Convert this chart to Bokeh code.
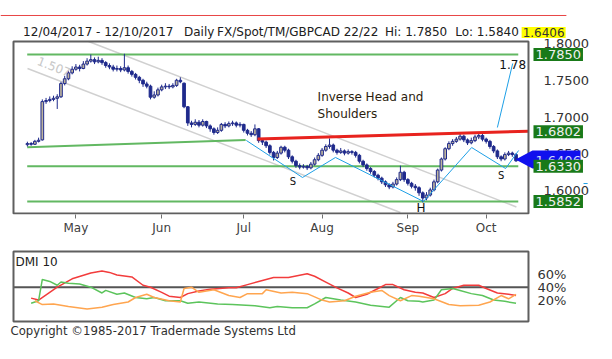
from bokeh.plotting import figure
from bokeh.models import (Range1d, FixedTicker, Label, PolyAnnotation, BoxAnnotation,
                          ColumnDataSource, NumeralTickFormatter)
from bokeh.layouts import column
from bokeh.embed import file_html
from bokeh.resources import INLINE

# ---------------- data (GBPCAD daily, 12/04/2017 - 12/10/2017) ----------------
opens = [1.6625, 1.6640, 1.6630, 1.6670, 1.6690, 1.7210, 1.7225, 1.7240, 1.7255, 1.7275,
         1.7455, 1.7520, 1.7600, 1.7650, 1.7680, 1.7660, 1.7720, 1.7760, 1.7780, 1.7750,
         1.7770, 1.7740, 1.7700, 1.7680, 1.7650, 1.7660, 1.7640, 1.7670, 1.7620, 1.7580,
         1.7540, 1.7500, 1.7450, 1.7420, 1.7270, 1.7300, 1.7370, 1.7410, 1.7420, 1.7410,
         1.7430, 1.7500, 1.7460, 1.7140, 1.6920, 1.6900, 1.6930, 1.6890, 1.6940, 1.6880,
         1.6840, 1.6790, 1.6820, 1.6900, 1.6880, 1.6910, 1.6920, 1.6890, 1.6900, 1.6820,
         1.6780, 1.6760, 1.6840, 1.6680, 1.6660, 1.6610, 1.6520, 1.6450, 1.6510, 1.6590,
         1.6550, 1.6460, 1.6400, 1.6340, 1.6320, 1.6330, 1.6310, 1.6360, 1.6420, 1.6480,
         1.6550, 1.6600, 1.6620, 1.6550, 1.6520, 1.6540, 1.6510, 1.6530, 1.6520, 1.6480,
         1.6400, 1.6350, 1.6300, 1.6260, 1.6210, 1.6170, 1.6120, 1.6080, 1.6050, 1.6090,
         1.6150, 1.6250, 1.6150, 1.6100, 1.6060, 1.6040, 1.5970, 1.5900, 1.5940, 1.6010,
         1.6120, 1.6280, 1.6430, 1.6570, 1.6640, 1.6670, 1.6700, 1.6740, 1.6690, 1.6650,
         1.6680, 1.6730, 1.6750, 1.6700, 1.6670, 1.6600, 1.6540, 1.6460, 1.6430, 1.6490,
         1.6510, 1.6490]
highs = [1.6665, 1.6660, 1.6690, 1.6720, 1.7240, 1.7260, 1.7280, 1.7290, 1.7310, 1.7480,
         1.7560, 1.7630, 1.7690, 1.7720, 1.7710, 1.7760, 1.7800, 1.7850, 1.7810, 1.7820,
         1.7800, 1.7760, 1.7730, 1.7710, 1.7700, 1.7690, 1.7860, 1.7700, 1.7640, 1.7600,
         1.7560, 1.7520, 1.7480, 1.7440, 1.7350, 1.7400, 1.7440, 1.7460, 1.7450, 1.7460,
         1.7520, 1.7540, 1.7470, 1.7150, 1.6950, 1.6970, 1.6960, 1.6970, 1.6950, 1.6900,
         1.6860, 1.6860, 1.6920, 1.6930, 1.6940, 1.6950, 1.6940, 1.6930, 1.6910, 1.6840,
         1.6810, 1.6900, 1.6850, 1.6700, 1.6680, 1.6630, 1.6540, 1.6540, 1.6610, 1.6610,
         1.6570, 1.6480, 1.6420, 1.6370, 1.6360, 1.6350, 1.6390, 1.6450, 1.6510, 1.6580,
         1.6630, 1.6710, 1.6640, 1.6570, 1.6580, 1.6560, 1.6560, 1.6550, 1.6540, 1.6500,
         1.6420, 1.6370, 1.6320, 1.6280, 1.6230, 1.6190, 1.6140, 1.6100, 1.6120, 1.6180,
         1.6340, 1.6270, 1.6170, 1.6120, 1.6090, 1.6060, 1.5990, 1.5980, 1.6040, 1.6150,
         1.6300, 1.6450, 1.6590, 1.6670, 1.6700, 1.6730, 1.6770, 1.6760, 1.6710, 1.6720,
         1.6760, 1.6780, 1.6770, 1.6720, 1.6690, 1.6620, 1.6560, 1.6480, 1.6520, 1.6540,
         1.6530, 1.6510]
lows = [1.6600, 1.6610, 1.6620, 1.6655, 1.6680, 1.7180, 1.7200, 1.7215, 1.7110, 1.7260,
        1.7430, 1.7500, 1.7580, 1.7630, 1.7620, 1.7650, 1.7700, 1.7740, 1.7720, 1.7730,
        1.7710, 1.7670, 1.7650, 1.7620, 1.7620, 1.7610, 1.7620, 1.7590, 1.7550, 1.7510,
        1.7460, 1.7410, 1.7390, 1.7240, 1.7250, 1.7280, 1.7350, 1.7380, 1.7380, 1.7390,
        1.7410, 1.7460, 1.7120, 1.6880, 1.6860, 1.6880, 1.6860, 1.6870, 1.6850, 1.6800,
        1.6760, 1.6770, 1.6800, 1.6850, 1.6860, 1.6880, 1.6860, 1.6860, 1.6790, 1.6750,
        1.6730, 1.6740, 1.6650, 1.6620, 1.6580, 1.6490, 1.6410, 1.6430, 1.6490, 1.6520,
        1.6430, 1.6370, 1.6310, 1.6290, 1.6300, 1.6280, 1.6290, 1.6340, 1.6400, 1.6460,
        1.6530, 1.6570, 1.6520, 1.6490, 1.6500, 1.6480, 1.6490, 1.6490, 1.6450, 1.6370,
        1.6320, 1.6270, 1.6230, 1.6180, 1.6140, 1.6090, 1.6050, 1.6020, 1.6030, 1.6070,
        1.6130, 1.6120, 1.6070, 1.6030, 1.6000, 1.5930, 1.5840, 1.5870, 1.5920, 1.5990,
        1.6100, 1.6260, 1.6410, 1.6550, 1.6610, 1.6650, 1.6680, 1.6660, 1.6620, 1.6630,
        1.6660, 1.6700, 1.6670, 1.6640, 1.6570, 1.6510, 1.6430, 1.6400, 1.6410, 1.6470,
        1.6460, 1.6390]
closes = [1.6640, 1.6630, 1.6670, 1.6685, 1.7210, 1.7225, 1.7240, 1.7255, 1.7275, 1.7455,
          1.7520, 1.7600, 1.7650, 1.7680, 1.7660, 1.7720, 1.7760, 1.7780, 1.7750, 1.7770,
          1.7740, 1.7700, 1.7680, 1.7650, 1.7660, 1.7640, 1.7670, 1.7620, 1.7580, 1.7540,
          1.7500, 1.7450, 1.7420, 1.7270, 1.7300, 1.7370, 1.7410, 1.7420, 1.7410, 1.7430,
          1.7500, 1.7480, 1.7140, 1.6920, 1.6900, 1.6930, 1.6890, 1.6940, 1.6880, 1.6840,
          1.6790, 1.6820, 1.6900, 1.6880, 1.6910, 1.6920, 1.6890, 1.6900, 1.6820, 1.6780,
          1.6760, 1.6840, 1.6680, 1.6660, 1.6610, 1.6520, 1.6450, 1.6510, 1.6590, 1.6550,
          1.6460, 1.6400, 1.6340, 1.6320, 1.6330, 1.6310, 1.6360, 1.6420, 1.6480, 1.6550,
          1.6600, 1.6620, 1.6550, 1.6520, 1.6540, 1.6510, 1.6530, 1.6520, 1.6480, 1.6400,
          1.6350, 1.6300, 1.6260, 1.6210, 1.6170, 1.6120, 1.6080, 1.6050, 1.6090, 1.6150,
          1.6250, 1.6150, 1.6100, 1.6060, 1.6040, 1.5970, 1.5900, 1.5940, 1.6010, 1.6120,
          1.6280, 1.6430, 1.6570, 1.6640, 1.6670, 1.6700, 1.6740, 1.6690, 1.6650, 1.6680,
          1.6730, 1.6750, 1.6700, 1.6670, 1.6600, 1.6540, 1.6460, 1.6430, 1.6490, 1.6510,
          1.6490, 1.6406]

month_ticks = [13, 36, 58, 79, 102, 123]          # first trading day of each month
month_labels = ["May", "Jun", "Jul", "Aug", "Sep", "Oct"]
price_ticks = [1.60, 1.65, 1.70, 1.75, 1.80]
level_values = [1.7850, 1.6330, 1.5852]            # green support/resistance levels
neckline_value = 1.6802
last_price = 1.6406
header_parts = ["12/04/2017 - 12/10/2017", "Daily", "FX/Spot/TM/GBPCAD 22/22",
                "Hi: 1.7850", "Lo: 1.5840"]

# drawn pattern lines (bar index, price)
zigzag_x = [58.7, 73.75, 82.6, 106.2, 119.1, 128.2, 131.7]
zigzag_y = [1.6682, 1.6179, 1.6451, 1.5853, 1.6586, 1.6301, 1.6546]
target_x = [126.0, 130.1]
target_y = [1.6858, 1.7728]
trend_x = [-0.05, 58.5]
trend_y = [1.6590, 1.6690]
neck_x = [61.7, 134.34]
neck_y = [1.6703, 1.6808]
chan_a_x = [16.4, 131.1]
chan_a_y = [1.8027, 1.5779]
chan_b_x = [0.03, 100.0]
chan_b_y = [1.7660, 1.5703]

# DMI 10
dmi_red_x = [1, 3, 8, 12, 17, 20, 22, 24, 28, 31, 33, 36, 38, 41, 43, 46, 49, 54, 56, 59, 62, 66,
             70, 75, 77, 80, 83, 86, 88, 91, 94, 96, 98, 101, 104, 106, 109, 112, 114, 117, 121,
             123, 126, 129, 131]
dmi_red = [23, 20, 40, 53, 62, 65, 63, 59, 56, 43, 40, 32, 26, 24, 30, 34, 37, 39, 39, 44, 49, 55,
           55, 61, 57, 48, 39, 31, 24, 29, 38, 44, 44, 36, 32, 31, 24, 30, 38, 43, 43, 38, 31, 29, 27]
dmi_green_x = [1, 3, 4, 6, 8, 9, 11, 14, 17, 20, 21, 24, 26, 29, 32, 34, 37, 41, 43, 46, 51, 55,
               61, 65, 67, 71, 75, 77, 80, 84, 88, 92, 97, 100, 102, 105, 106, 109, 111, 114, 116,
               119, 122, 125, 128, 131]
dmi_green = [15, 19, 52, 49, 43, 48, 46, 45, 40, 31, 35, 29, 31, 24, 22, 24, 19, 19, 15, 17, 14, 13,
             11, 8, 10, 8, 8, 14, 24, 20, 17, 12, 9, 24, 19, 18, 17, 20, 36, 38, 35, 30, 27, 20, 18, 15]
dmi_orange_x = [2, 4, 7, 11, 16, 20, 23, 27, 29, 32, 34, 38, 41, 42, 44, 46, 50, 54, 57, 59, 63, 64,
                68, 71, 75, 79, 81, 85, 88, 92, 95, 97, 100, 103, 105, 109, 113, 116, 121, 124,
                127, 129, 131]
dmi_orange = [19, 13, 14, 10, 6, 9, 13, 17, 24, 29, 24, 19, 17, 38, 40, 32, 36, 27, 24, 30, 30, 36,
              31, 32, 30, 20, 17, 19, 26, 32, 35, 27, 19, 27, 26, 22, 13, 11, 12, 17, 27, 22, 29]
dmi_ticks = [20, 40, 60]
dmi_ref_level = 40

# ---------------- styling / geometry ----------------
FONT = "DejaVu Sans"
NAVY = "#1f2a8c"
UPFILL = "#bdb49c"
GREEN = "#62b862"
FRAME = "#5f5f5f"
X0, X1 = -7.212, 156.863          # whole canvas width in bar units
BOX_L, BOX_R = -3.727, 134.34     # chart box edges in bar units

p = figure(width=612, height=242, x_range=Range1d(X0, X1), y_range=Range1d(1.56761, 1.85837),
           output_backend="svg", toolbar_location=None, y_axis_location="right",
           min_border_left=0, min_border_right=0, min_border_top=0, min_border_bottom=28)
p.title.visible = False
p.grid.visible = False
p.outline_line_color = None

p.xaxis.ticker = FixedTicker(ticks=month_ticks)
p.xaxis.major_label_overrides = {t: l for t, l in zip(month_ticks, month_labels)}
p.xaxis.axis_line_color = None
p.xaxis.major_tick_in = 0
p.xaxis.major_tick_out = 4
p.xaxis.major_tick_line_color = "#707070"
p.xaxis.minor_tick_line_color = None
p.xaxis.major_label_standoff = 2
p.xaxis.major_label_text_font = FONT
p.xaxis.major_label_text_font_size = "12px"
p.xaxis.major_label_text_color = "#404040"

p.yaxis.fixed_location = BOX_R
p.yaxis.ticker = FixedTicker(ticks=price_ticks)
p.yaxis.formatter = NumeralTickFormatter(format="0.0000")
p.yaxis.axis_line_color = None
p.yaxis.major_tick_line_color = None
p.yaxis.minor_tick_line_color = None
p.yaxis.major_label_standoff = 9
p.yaxis.major_label_text_font = FONT
p.yaxis.major_label_text_font_size = "13px"
p.yaxis.major_label_text_color = "#333333"

p.add_layout(BoxAnnotation(left=BOX_L, right=BOX_R, bottom=1.5689, top=1.8027,
                           fill_alpha=0, line_color=FRAME, line_width=2, line_alpha=1))

# channel lines
p.line(chan_a_x, chan_a_y, line_color="#d0d0d0", line_width=1.5)
p.line(chan_b_x, chan_b_y, line_color="#d0d0d0", line_width=1.5)
p.add_layout(Label(x=2.4, y=1.7714, text="1.507", angle=-0.368, text_font=FONT,
                   text_font_size="12px", text_color="#c8c8c8", text_baseline="bottom"))

# horizontal levels
p.segment(x0=[-0.05] * len(level_values), y0=level_values, x1=[131.6] * len(level_values),
          y1=level_values, line_color=GREEN, line_width=2)
p.line(trend_x, trend_y, line_color=GREEN, line_width=2)

# candles
body_top = [max(o, c) for o, c in zip(opens, closes)]
body_bot = [min(o, c) for o, c in zip(opens, closes)]
fills = [UPFILL if c >= o else NAVY for o, c in zip(opens, closes)]
src = ColumnDataSource(dict(x=list(range(len(closes))), h=highs, l=lows, t=body_top, b=body_bot,
                            f=fills))
p.segment(x0="x", y0="h", x1="x", y1="l", source=src, line_color=NAVY, line_width=1)
p.vbar(x="x", width=0.72, top="t", bottom="b", source=src, fill_color="f", line_color=NAVY,
       line_width=1)

# neckline and pattern
p.line(neck_x, neck_y, line_color="#e8231e", line_width=3)
p.line(zigzag_x, zigzag_y, line_color="#1e9fe6", line_width=1)
p.line(target_x, target_y, line_color="#1e9fe6", line_width=1)
p.line([149.1, 150.2], [1.6097, 1.6097], line_color="#1e9fe6", line_width=1)


def txt(x, y, t, size="12px", color="#111111", align="left", baseline="middle", **kw):
    return Label(x=x, y=y, text=t, text_font=FONT, text_font_size=size, text_color=color,
                 text_align=align, text_baseline=baseline, **kw)


p.add_layout(txt(77.8, 1.7266, "Inverse Head and", color="#2b1d0e"))
p.add_layout(txt(77.8, 1.7035, "Shoulders", color="#2b1d0e"))
p.add_layout(txt(130.1, 1.7714, "1.78", align="center"))
p.add_layout(txt(71.2, 1.6124, "S", size="10px", align="center"))
p.add_layout(txt(127.0, 1.6205, "S", size="10px", align="center"))
p.add_layout(txt(105.5, 1.5758, "H", size="12px", align="center"))

# header
p.line([X0, 144.5], [1.8380, 1.8380], line_color="#e84545", line_width=1)
header_x = [-1.15, 41.98, 50.86, 95.87, 114.69]
for hx, ht in zip(header_x, header_parts):
    p.add_layout(txt(hx, 1.8149, ht, size="12px", color="#202020"))
p.add_layout(txt(132.5, 1.8149, "%.4f" % last_price, size="12px", color="#333333",
                 background_fill_color="#ffff00", padding=1))

# last price arrow
p.add_layout(PolyAnnotation(xs=[130.86, 135.41, 148.28, 148.28, 135.41],
                            ys=[1.6423, 1.6546, 1.6546, 1.6301, 1.6301],
                            fill_color="#1010ee", fill_alpha=1, line_color=None))
p.add_layout(txt(136.2, last_price, "%.4f" % last_price, size="13px", color="#d0d8ff"))

# level labels
for lv in level_values + [neckline_value]:
    p.add_layout(txt(135.68, lv, "%.4f" % lv, size="13px", color="#f0f0f0",
                     background_fill_color="#197a19", padding=2))

# ---------------- DMI panel ----------------
d = figure(width=612, height=117, x_range=p.x_range, y_range=Range1d(-72.37, 109.47),
           output_backend="svg", toolbar_location=None, y_axis_location="right",
           min_border_left=0, min_border_right=0, min_border_top=0, min_border_bottom=0)
d.title.visible = False
d.grid.visible = False
d.xaxis.visible = False
d.outline_line_color = None
d.yaxis.fixed_location = BOX_R
d.yaxis.ticker = FixedTicker(ticks=dmi_ticks)
d.yaxis.major_label_overrides = {t: "%d%%" % t for t in dmi_ticks}
d.yaxis.axis_line_color = None
d.yaxis.major_tick_line_color = None
d.yaxis.minor_tick_line_color = None
d.yaxis.major_label_standoff = 3
d.yaxis.major_label_text_font = FONT
d.yaxis.major_label_text_font_size = "13px"
d.yaxis.major_label_text_color = "#333333"

d.add_layout(BoxAnnotation(left=BOX_L, right=BOX_R, bottom=-13.31, top=95.49,
                           fill_alpha=0, line_color=FRAME, line_width=2, line_alpha=1))
d.line([BOX_L, BOX_R], [dmi_ref_level, dmi_ref_level], line_color="#555555", line_width=2)
d.line(dmi_red_x, dmi_red, line_color="#f23c3c", line_width=1.5)
d.line(dmi_green_x, dmi_green, line_color="#5cc45c", line_width=1.5)
d.line(dmi_orange_x, dmi_orange, line_color="#ffa54f", line_width=1.5)
d.add_layout(txt(-3.19, 78.86, "DMI 10", size="12px", color="#202020"))
d.add_layout(txt(-4.53, -28.85, "Copyright \u00a91985-2017 Tradermade Systems Ltd", size="11.7px",
                 color="#303030"))

layout = column(p, d, spacing=0)
open("out.html", "w").write(file_html(layout, INLINE))
